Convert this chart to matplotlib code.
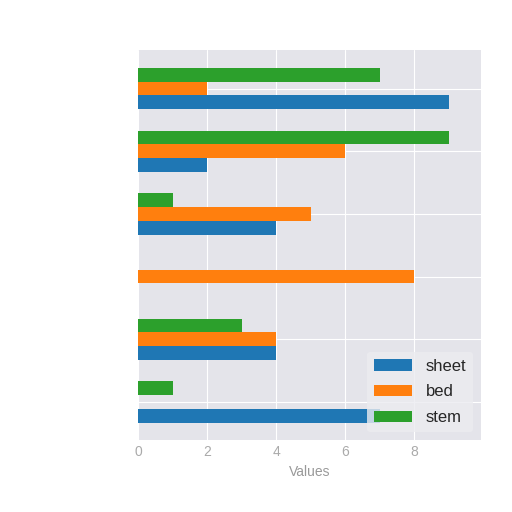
import numpy as np
import matplotlib.pyplot as plt

categories = ["A", "B", "C", "D", "E", "F"]
sheet = [7, 4, 0, 4, 2, 9]
bed = [0, 4, 8, 5, 6, 2]
stem = [1, 3, 0, 1, 9, 7]

series = [("sheet", sheet, "#1f77b4"), ("bed", bed, "#ff7f0e"), ("stem", stem, "#2ca02c")]


def main():
    plt.style.use("seaborn-v0_8-darkgrid")
    fig = plt.figure(figsize=(5.12, 5.12), dpi=100)
    ax = fig.add_axes([0.27, 0.14, 0.67, 0.762])
    ax.set_facecolor("#e4e4ea")

    y = np.arange(len(categories))
    h = 0.22
    for i, (name, vals, color) in enumerate(series):
        ax.barh(y + (i - 1) * h, vals, height=h, color=color, label=name)

    ax.set_yticks(y)
    ax.set_yticklabels([""] * len(categories))
    ax.set_xlim(0, 9.95)
    ax.set_xticks([0, 2, 4, 6, 8])
    ax.tick_params(axis="x", colors="#aaaaaa", labelsize=10)
    ax.set_xlabel("Values", color="#999999", fontsize=10)
    leg = ax.legend(loc="lower right", fontsize=12, frameon=True, handlelength=2.3,
                    labelspacing=0.65, borderaxespad=0.5)
    leg.get_frame().set_facecolor("#ececf0")
    leg.get_frame().set_edgecolor("none")

    fig.savefig("out.png", dpi=100)
    plt.close(fig)


if __name__ == "__main__":
    main()
